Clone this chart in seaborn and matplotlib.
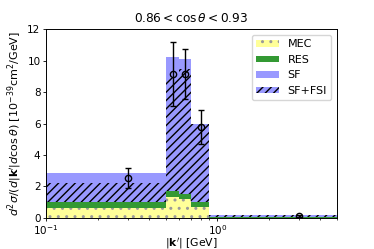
import matplotlib
matplotlib.use("Agg")
import matplotlib.pyplot as plt
from matplotlib.patches import Patch
import numpy as np
import pandas as pd
import seaborn as sns

# bin edges in |k'| [GeV]
edges = [0.1, 0.5, 0.6, 0.7, 0.9, 5.0]
centers = [0.3, 0.55, 0.65, 0.8, 3.0]

# model predictions per bin
mec = [0.60, 1.30, 1.17, 0.70, 0.02]
res = [0.42, 0.40, 0.32, 0.32, 0.01]
sf = [2.83, 10.26, 10.13, 5.97, 0.20]
sf_fsi = [2.25, 8.88, 9.45, 5.97, 0.20]

# measured data
data_y = [2.55, 9.15, 9.15, 5.80, 0.10]
data_err = [0.62, 2.05, 1.60, 1.07, 0.06]

df = pd.DataFrame({"k": centers, "MEC": mec, "RES": res, "SF": sf, "SF+FSI": sf_fsi})
df["MEC+RES"] = df["MEC"] + df["RES"]

c_sf = "#9999ff"
c_res = "#339933"
c_mec = "#ffff99"

fig, ax = plt.subplots(figsize=(3.74, 2.49), dpi=100)
fig.subplots_adjust(left=0.123, right=0.901, bottom=0.125, top=0.882)

sns.histplot(data=df, x="k", weights="SF", bins=edges, ax=ax, color=c_sf,
             alpha=1, linewidth=0)
sns.histplot(data=df, x="k", weights="SF+FSI", bins=edges, ax=ax, color=c_sf,
             alpha=1, linewidth=0, edgecolor="k", hatch="////")
sns.histplot(data=df, x="k", weights="MEC+RES", bins=edges, ax=ax, color=c_res,
             alpha=1, linewidth=0)
sns.histplot(data=df, x="k", weights="MEC", bins=edges, ax=ax, color=c_mec,
             alpha=1, linewidth=0, edgecolor="#9a9a9a", hatch="..")

ax.errorbar(centers, data_y, yerr=data_err, fmt="o", mfc="none", mec="k",
            ecolor="k", ms=4.5, mew=1.0, elinewidth=1.0, capsize=2)

ax.set_xscale("log")
ax.set_xlim(0.1, 5.0)
ax.set_ylim(0, 12)
ax.set_yticks([0, 2, 4, 6, 8, 10, 12])
ax.tick_params(which="major", labelsize=7.5, pad=1.5, length=2.5, width=0.6)
ax.tick_params(axis="x", which="major", pad=1)
ax.tick_params(which="minor", length=1.5, width=0.5)
for sp in ax.spines.values():
    sp.set_linewidth(0.7)
ax.set_xlabel(r"$|\mathbf{k}'|$ [GeV]", fontsize=7.8)
ax.xaxis.set_label_coords(0.5, -0.094)
ax.set_ylabel(r"$d^2\sigma/(d|\mathbf{k}'|d\cos\theta)$ [$10^{-39}$cm$^2$/GeV]",
              fontsize=8, labelpad=2)
ax.set_title(r"$0.86 < \cos\theta < 0.93$", fontsize=8.75, pad=5)

handles = [
    Patch(facecolor=c_mec, edgecolor="#9a9a9a", hatch="..", linewidth=0, label="MEC"),
    Patch(facecolor=c_res, linewidth=0, label="RES"),
    Patch(facecolor=c_sf, linewidth=0, label="SF"),
    Patch(facecolor=c_sf, edgecolor="k", hatch="////", linewidth=0, label="SF+FSI"),
]
ax.legend(handles=handles, loc="upper right", fontsize=8, framealpha=0.8,
          handleheight=0.5, handlelength=2.0)

fig.savefig("out.png", dpi=100)
